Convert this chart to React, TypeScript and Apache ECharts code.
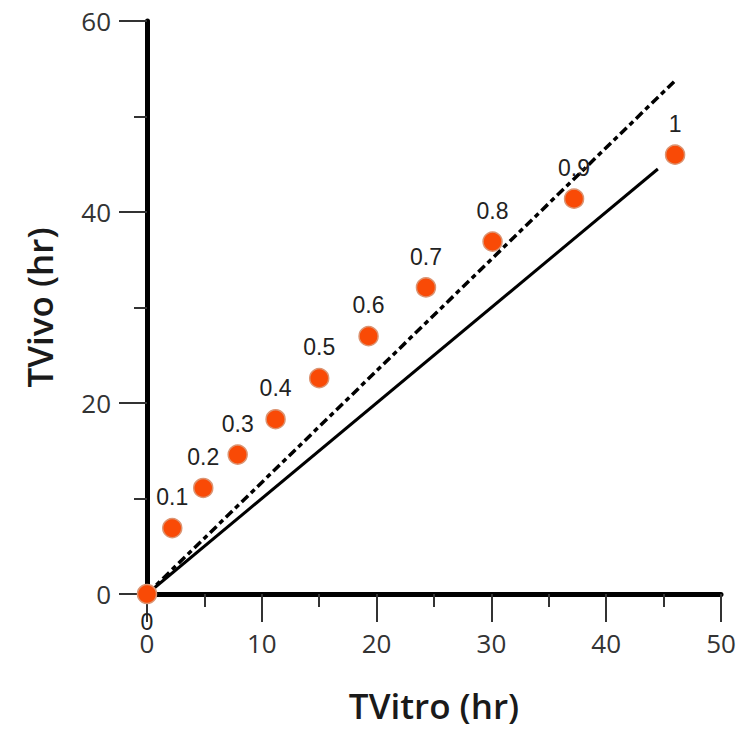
import React, { useEffect, useRef } from "react";
import * as echarts from "echarts";

// Data
const tVitro = [0, 2.2, 4.9, 7.9, 11.2, 15.0, 19.3, 24.3, 30.1, 37.2, 46.0];
const tVivo = [0, 6.9, 11.1, 14.6, 18.3, 22.6, 27.0, 32.1, 36.9, 41.4, 46.0];
const fractionLabels = ["0", "0.1", "0.2", "0.3", "0.4", "0.5", "0.6", "0.7", "0.8", "0.9", "1"];
const identityLine = [
  [0, 0],
  [44.5, 44.5],
];
const fitLine = [
  [0, 0],
  [46, 53.75],
];
const xRange = [0, 50];
const yRange = [0, 60];
const xInterval = 10;
const yInterval = 20;

export default function App() {
  const ref = useRef<HTMLDivElement>(null);

  useEffect(() => {
    if (!ref.current) return;
    const chart = echarts.init(ref.current, null, { renderer: "svg" });

    const axisCommon = {
      type: "value" as const,
      splitLine: { show: false },
      axisLine: { show: true, onZero: false, lineStyle: { color: "#000", width: 5 } },
      axisTick: { show: true, inside: false, length: 28, lineStyle: { color: "#333", width: 2 } },
      minorTick: { show: true, splitNumber: 2, length: 13, lineStyle: { color: "#333", width: 2 } },
      axisLabel: {
        color: "#333",
        fontSize: 26,
        fontFamily: "Open Sans",
        margin: 36,
      },
      nameLocation: "middle" as const,
      nameTextStyle: {
        color: "#1a1a1a",
        fontSize: 35,
        fontWeight: 600,
        fontFamily: "Open Sans",
      },
    };

    const scatterData = tVitro.map((x, i) => {
      const item: any = { value: [x, tVivo[i]], name: fractionLabels[i] };
      if (i === 0) item.label = { position: "bottom", distance: 6 };
      return item;
    });

    chart.setOption({
      animation: false,
      backgroundColor: "#fff",
      grid: { left: 147, right: 18, top: 21, bottom: 137, containLabel: false },
      xAxis: {
        ...axisCommon,
        min: xRange[0],
        max: xRange[1],
        interval: xInterval,
        name: "TVitro (hr)",
        nameGap: 94,
      },
      yAxis: {
        ...axisCommon,
        min: yRange[0],
        max: yRange[1],
        interval: yInterval,
        name: "TVivo (hr)",
        nameGap: 90,
        nameRotate: 90,
      },
      series: [
        {
          type: "line",
          data: identityLine,
          symbol: "none",
          z: 2,
          lineStyle: { color: "#000", width: 3, type: "solid" },
        },
        {
          type: "line",
          data: fitLine,
          symbol: "none",
          z: 2,
          lineStyle: { color: "#000", width: 3.5, type: [9, 4, 5, 4] },
        },
        {
          type: "scatter",
          data: scatterData,
          symbol: "circle",
          symbolSize: 19,
          z: 3,
          itemStyle: { color: "#f94a06", borderColor: "#dc9472", borderWidth: 1.5, opacity: 1 },
          label: {
            show: true,
            position: "top",
            distance: 9,
            formatter: (p: any) => p.name,
            color: "#222",
            fontSize: 23,
            fontFamily: "Liberation Sans",
          },
        },
      ],
    });

    return () => chart.dispose();
  }, []);

  return (
    <div
      ref={ref}
      style={{ position: "fixed", left: 0, top: 0, width: 739, height: 731, background: "#fff" }}
    />
  );
}
